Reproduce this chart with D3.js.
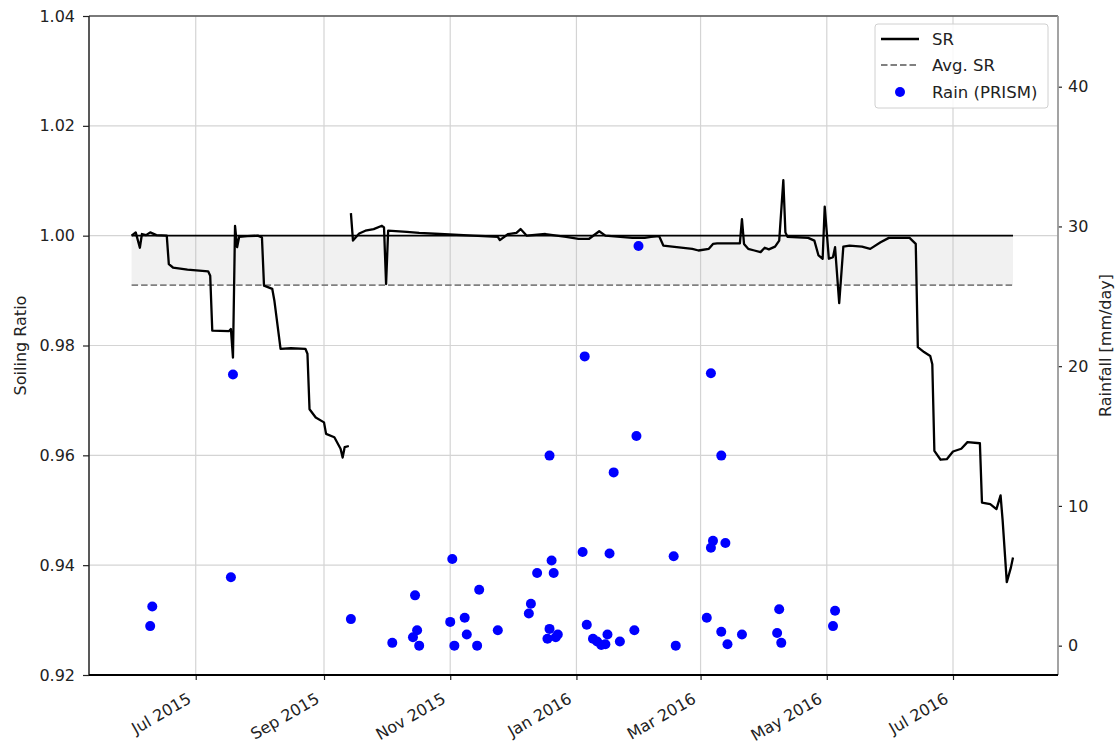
<!DOCTYPE html>
<html>
<head>
<meta charset="utf-8">
<script src="https://d3js.org/d3.v7.min.js"></script>
<style>
  body { margin: 0; background: #fff; }
  svg text { font-family: "DejaVu Sans", sans-serif; fill: #222; }
</style>
</head>
<body>
<div id="chart-area"></div>
<script>
// soiling ratio (null = gap in the record)
const srDates = [
  '2015-05-31','2015-06-02','2015-06-04','2015-06-05','2015-06-07','2015-06-09','2015-06-12','2015-06-17',
  '2015-06-18','2015-06-20','2015-06-27','2015-07-07','2015-07-08','2015-07-09','2015-07-17','2015-07-18',
  '2015-07-19','2015-07-20','2015-07-21','2015-07-22','2015-07-26','2015-07-31','2015-08-02','2015-08-03',
  '2015-08-07','2015-08-08','2015-08-11','2015-08-16','2015-08-23','2015-08-24','2015-08-25','2015-08-28',
  '2015-09-01','2015-09-02','2015-09-06','2015-09-09','2015-09-10','2015-09-11','2015-09-13','2015-09-14',
  '2015-09-14','2015-09-15','2015-09-18','2015-09-21','2015-09-25','2015-09-29','2015-09-30','2015-10-01',
  '2015-10-02','2015-10-11','2015-10-17','2015-10-27','2015-11-12','2015-11-24','2015-11-25','2015-11-29',
  '2015-12-03','2015-12-05','2015-12-08','2015-12-17','2015-12-27','2016-01-02','2016-01-07','2016-01-12',
  '2016-01-15','2016-01-28','2016-02-03','2016-02-06','2016-02-10','2016-02-12','2016-02-26','2016-02-29',
  '2016-03-05','2016-03-07','2016-03-09','2016-03-20','2016-03-21','2016-03-22','2016-03-24','2016-03-27',
  '2016-03-30','2016-04-01','2016-04-03','2016-04-06','2016-04-08','2016-04-10','2016-04-11','2016-04-12',
  '2016-04-22','2016-04-25','2016-04-27','2016-04-29','2016-04-30','2016-05-02','2016-05-04','2016-05-05',
  '2016-05-07','2016-05-09','2016-05-12','2016-05-18','2016-05-22','2016-05-27','2016-05-31','2016-06-10',
  '2016-06-13','2016-06-14','2016-06-17','2016-06-20','2016-06-21','2016-06-22','2016-06-25','2016-06-28',
  '2016-07-01','2016-07-05','2016-07-08','2016-07-14','2016-07-15','2016-07-19','2016-07-22','2016-07-24',
  '2016-07-25','2016-07-27','2016-07-29','2016-07-30'
];
const srValues = [
  1.0000, 1.0006, 0.9978, 1.0003, 1.0001, 1.0006, 1.0001, 1.0000,
  0.9948, 0.9942, 0.9938, 0.9935, 0.9927, 0.9827, 0.9826, 0.9830,
  0.9778, 1.0018, 0.9979, 0.9998, 0.9999, 1.0000, 0.9997, 0.9909,
  0.9903, 0.9882, 0.9794, 0.9795, 0.9794, 0.9785, 0.9684, 0.9669,
  0.9660, 0.9639, 0.9633, 0.9612, 0.9596, 0.9615, 0.9617, null,
  1.0041, 0.9991, 1.0004, 1.0009, 1.0012, 1.0018, 1.0015, 0.9912,
  1.0009, 1.0007, 1.0005, 1.0003, 1.0000, 0.9998, 0.9992, 1.0003,
  1.0005, 1.0012, 1.0000, 1.0003, 0.9998, 0.9994, 0.9994, 1.0008,
  1.0000, 0.9996, 0.9996, 0.9998, 0.9999, 0.9982, 0.9976, 0.9973,
  0.9976, 0.9985, 0.9986, 0.9986, 1.0030, 0.9985, 0.9976, 0.9973,
  0.9970, 0.9978, 0.9975, 0.9980, 0.9991, 1.0101, 1.0006, 0.9998,
  0.9996, 0.9991, 0.9964, 0.9958, 1.0053, 0.9958, 0.9961, 0.9979,
  0.9877, 0.9980, 0.9982, 0.9980, 0.9976, 0.9988, 0.9996, 0.9996,
  0.9985, 0.9797, 0.9788, 0.9781, 0.9766, 0.9608, 0.9592, 0.9593,
  0.9607, 0.9612, 0.9624, 0.9622, 0.9514, 0.9511, 0.9502, 0.9527,
  0.9481, 0.9369, 0.9396, 0.9414
];
const avgSR = 0.991;

// daily rainfall (PRISM), mm/day
const rainDates = [
  '2015-06-09','2015-06-10','2015-07-18','2015-07-19','2015-09-14','2015-10-04','2015-10-14','2015-10-15',
  '2015-10-16','2015-10-17','2015-11-01','2015-11-02','2015-11-03','2015-11-08','2015-11-09','2015-11-14',
  '2015-11-15','2015-11-24','2015-12-09','2015-12-10','2015-12-13','2015-12-18','2015-12-19','2015-12-19',
  '2015-12-20','2015-12-21','2015-12-22','2015-12-23','2016-01-04','2016-01-05','2016-01-06','2016-01-09',
  '2016-01-11','2016-01-13','2016-01-15','2016-01-16','2016-01-17','2016-01-19','2016-01-22','2016-01-29',
  '2016-01-30','2016-01-31','2016-02-17','2016-02-18','2016-03-04','2016-03-06','2016-03-06','2016-03-07',
  '2016-03-11','2016-03-11','2016-03-13','2016-03-14','2016-03-21','2016-04-07','2016-04-08','2016-04-09',
  '2016-05-04','2016-05-05'
];
const rainValues = [
  1.4, 2.8, 4.9, 19.4, 1.9, 0.2, 0.6, 3.6,
  1.1, 0.0, 1.7, 6.2, 0.0, 2.0, 0.8, 0.0,
  4.0, 1.1, 2.3, 3.0, 5.2, 0.5, 13.6, 1.2,
  6.1, 5.2, 0.6, 0.8, 6.7, 20.7, 1.5, 0.5,
  0.3, 0.05, 0.1, 0.8, 6.6, 12.4, 0.3, 1.1,
  15.0, 28.6, 6.4, 0.0, 2.0, 19.5, 7.0, 7.5,
  1.0, 13.6, 7.35, 0.1, 0.8, 0.9, 2.6, 0.2,
  1.4, 2.5
];

const srTicks = [0.92, 0.94, 0.96, 0.98, 1.00, 1.02, 1.04];
const rainTicks = [0, 10, 20, 30, 40];
const monthTicks = ['2015-07-01','2015-09-01','2015-11-01','2016-01-01','2016-03-01','2016-05-01','2016-07-01'];
const legendLabels = ['SR', 'Avg. SR', 'Rain (PRISM)'];

document.addEventListener("DOMContentLoaded", function () {

  var margin = { left: 89, right: 61, top: 16, bottom: 72 };
  var width = 1119 - margin.left - margin.right,
      height = 747 - margin.top - margin.bottom;

  var parse = d3.timeParse('%Y-%m-%d');

  var svg = d3.select("#chart-area")
      .append("svg")
          .attr("width", width + margin.left + margin.right)
          .attr("height", height + margin.top + margin.bottom);
  var g = svg.append("g")
      .attr("transform", "translate(" + margin.left + ", " + margin.top + ")");

  let sr = srDates.map((d, i) => ({ date: parse(d), value: srValues[i] }));
  let rain = rainDates.map((d, i) => ({ date: parse(d), value: rainValues[i] }));
  let months = monthTicks.map(parse);

  let x = d3.scaleTime()
      .domain([new Date(2015, 4, 10, 10), new Date(2016, 7, 20, 18)])
      .range([0, width]);

  let y = d3.scaleLinear()
      .domain([0.92, 1.04])
      .range([height, 0]);

  let y2 = d3.scaleLinear()
      .domain([-2.1, 45.06])
      .range([height, 0]);

  // grid
  g.selectAll('.xgrid')
    .data(months)
    .enter().append('line')
      .attr('x1', d => x(d)).attr('x2', d => x(d))
      .attr('y1', 0).attr('y2', height)
      .attr('stroke', '#d4d4d4')
      .attr('stroke-width', 1.2);

  g.selectAll('.ygrid')
    .data(srTicks)
    .enter().append('line')
      .attr('x1', 0).attr('x2', width)
      .attr('y1', d => y(d)).attr('y2', d => y(d))
      .attr('stroke', '#d4d4d4')
      .attr('stroke-width', 1.2);

  let first = sr[0].date, last = sr[sr.length - 1].date;

  // band between clean and average
  g.append('rect')
    .attr('x', x(first))
    .attr('width', x(last) - x(first))
    .attr('y', y(1.0))
    .attr('height', y(avgSR) - y(1.0))
    .attr('fill', '#bbb')
    .attr('opacity', 0.2);

  g.append('line')
    .attr('x1', x(first)).attr('x2', x(last))
    .attr('y1', y(1.0)).attr('y2', y(1.0))
    .attr('stroke', '#000')
    .attr('stroke-width', 1.6);

  g.append('line')
    .attr('x1', x(first)).attr('x2', x(last))
    .attr('y1', y(avgSR)).attr('y2', y(avgSR))
    .attr('stroke', '#808080')
    .attr('stroke-width', 1.8)
    .attr('stroke-dasharray', '6.5,3');

  let line = d3.line()
      .defined(d => d.value != null)
      .x(d => x(d.date))
      .y(d => y(d.value));

  g.append('path')
    .datum(sr)
    .attr('d', line)
    .attr('fill', 'none')
    .attr('stroke', '#000')
    .attr('stroke-width', 2.3)
    .attr('stroke-linejoin', 'round');

  g.selectAll('circle')
    .data(rain)
    .enter().append('circle')
      .attr('cx', d => x(d.date))
      .attr('cy', d => y2(d.value))
      .attr('r', 5)
      .attr('fill', '#0000ff');

  // axes
  let xAxis = d3.axisBottom(x)
      .tickValues(months)
      .tickFormat(d3.timeFormat('%b %Y'))
      .tickSize(5);

  let xg = g.append('g')
      .attr('class', 'x-axis')
      .attr('transform', 'translate(0, ' + height + ')')
      .call(xAxis);
  xg.selectAll('text')
      .attr('x', 0).attr('y', 0).attr('dy', 0)
      .style('text-anchor', 'end')
      .attr('transform', 'translate(-4, 27) rotate(-30)');

  let yAxis = d3.axisLeft(y)
      .tickValues(srTicks)
      .tickFormat(d3.format('.2f'))
      .tickSize(6)
      .tickPadding(8);

  g.append('g')
      .attr('class', 'y-axis')
      .call(yAxis);

  let y2Axis = d3.axisRight(y2)
      .tickValues(rainTicks)
      .tickSize(4)
      .tickPadding(6);

  g.append('g')
      .attr('class', 'y2-axis')
      .attr('transform', 'translate(' + width + ', 0)')
      .call(y2Axis);

  g.selectAll('.domain').remove();
  g.selectAll('.tick line').attr('stroke', '#222').attr('stroke-width', 1.2);
  g.selectAll('.tick text').style('font-size', '16px').attr('fill', '#222');

  // spines
  g.append('line').attr('x1', 0).attr('x2', width).attr('y1', 0).attr('y2', 0)
    .attr('stroke', '#555').attr('stroke-width', 1.5);
  g.append('line').attr('x1', width).attr('x2', width).attr('y1', 0).attr('y2', height)
    .attr('stroke', '#999').attr('stroke-width', 1.8);
  g.append('line').attr('x1', 0).attr('x2', 0).attr('y1', 0).attr('y2', height)
    .attr('stroke', '#222').attr('stroke-width', 1.5);
  g.append('line').attr('x1', 0).attr('x2', width).attr('y1', height).attr('y2', height)
    .attr('stroke', '#000').attr('stroke-width', 1.8);

  // axis titles
  svg.append('text')
    .attr('transform', 'translate(20, ' + (margin.top + height / 2) + ') rotate(-90)')
    .attr('dy', '0.35em')
    .attr('text-anchor', 'middle')
    .style('font-size', '16px')
    .text('Soiling Ratio');

  svg.append('text')
    .attr('transform', 'translate(1105, ' + (margin.top + height / 2) + ') rotate(-90)')
    .attr('dy', '0.35em')
    .attr('text-anchor', 'middle')
    .style('font-size', '16px')
    .text('Rainfall [mm/day]');

  // legend
  let lg = svg.append('g').attr('transform', 'translate(875, 24)');
  lg.append('rect')
    .attr('width', 173).attr('height', 84).attr('rx', 3)
    .attr('fill', '#fff').attr('fill-opacity', 0.85)
    .attr('stroke', '#d0d0d0');

  let rows = [15, 41, 68];
  lg.append('line').attr('x1', 6).attr('x2', 44).attr('y1', rows[0]).attr('y2', rows[0])
    .attr('stroke', '#000').attr('stroke-width', 2.6);
  lg.append('line').attr('x1', 6).attr('x2', 44).attr('y1', rows[1]).attr('y2', rows[1])
    .attr('stroke', '#808080').attr('stroke-width', 1.8).attr('stroke-dasharray', '6.5,3');
  lg.append('circle').attr('cx', 25).attr('cy', rows[2]).attr('r', 5).attr('fill', '#0000ff');

  lg.selectAll('.lbl')
    .data(legendLabels)
    .enter().append('text')
      .attr('x', 57)
      .attr('y', (d, i) => rows[i])
      .attr('dy', '0.35em')
      .style('font-size', '16.5px')
      .text(d => d);
});
</script>
</body>
</html>
